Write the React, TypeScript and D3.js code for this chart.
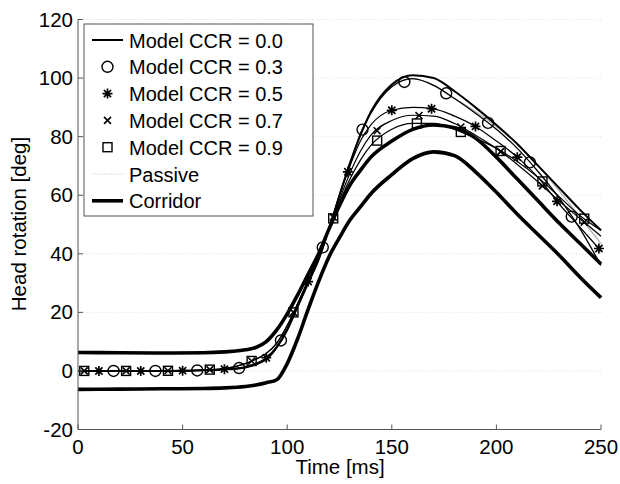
import React from "react";
import * as d3 from "d3";

const times = [0, 20, 40, 60, 70, 80, 85, 90, 95, 100, 105, 110, 115, 120, 125, 130, 135, 140, 150, 160, 170, 180, 190, 200, 210, 220, 230, 240, 250];

const ccr00 = [0, 0, 0, 0.2, 0.5, 1.2, 2.2, 4, 8, 14, 22, 30, 38, 48.5, 60, 71, 80.5, 88.5, 97.8, 101, 100, 95.5, 90, 84, 77.5, 70, 62.5, 55, 48];
const ccr03 = [0, 0, 0, 0.2, 0.5, 1.2, 2.2, 4, 8, 14, 22, 30, 38, 48.5, 60, 70.5, 81, 88, 97, 99.8, 97.5, 93, 88, 82.5, 76, 68, 59, 48.5, 36];
const ccr05 = [0, 0, 0, 0.2, 0.6, 1.5, 2.6, 4.5, 8.5, 14.5, 22.5, 30.5, 38.5, 48.5, 60, 70, 78.5, 84, 89, 90, 89.5, 87, 83.5, 78.5, 73, 66, 57, 49, 41];
const ccr07 = [0, 0, 0, 0.3, 0.8, 2.5, 4, 6, 9.5, 15.5, 23, 31, 39, 48.5, 58.5, 67.5, 75, 80.5, 85.5, 87.3, 87, 84.5, 80.5, 76, 70.5, 64.5, 58, 52, 46];
const ccr09 = [0, 0, 0, 0.3, 0.8, 2.5, 4, 6, 9.5, 15.5, 23, 31, 39, 48.5, 57.5, 65.5, 72, 77, 82.5, 84.5, 84.5, 82.5, 79.5, 76, 71.5, 66, 59.5, 53, 48];
const passive = [0, 0, 0, 0.2, 0.5, 1.2, 2.2, 4, 8, 14, 22, 30, 38, 48.5, 60, 70.5, 81, 88, 97, 99.8, 97.5, 93, 88.5, 83.5, 77.5, 70, 61.5, 52.5, 43.5];
const corridorUpper = [6.3, 6.2, 6.1, 6.2, 6.5, 7.2, 8, 10, 14, 19.5, 26, 33, 40, 48.5, 56.5, 63.5, 68.5, 73, 78.5, 82.5, 84, 83, 79.5, 73, 65.5, 58, 50.5, 43.5, 36.5];
const corridorLower = [-6.3, -6.2, -6.1, -6, -5.8, -5.3, -4.8, -4, -3, 2.5, 11, 21, 30.5, 39, 45.5, 51.5, 56, 60.5, 67, 72.5, 74.8, 73.5, 68, 61, 53.5, 46.5, 39.5, 32, 25];

const circleTimes = [17, 37, 57, 77, 97, 117, 136, 156, 176, 196, 216, 236];
const starTimes = [10, 30, 50, 70, 90, 110, 129, 150, 169, 190, 210, 229, 249];
const squareTimes = [3, 23, 43, 63, 83, 103, 122, 143, 162, 183, 202, 222, 242];
const crossTimes = [3, 23, 43, 63, 83, 103, 122, 143, 163, 183, 202, 222, 242];

const xTicks = [0, 50, 100, 150, 200, 250];
const yTicks = [-20, 0, 20, 40, 60, 80, 100, 120];

const legendLabels = ["Model CCR = 0.0", "Model CCR = 0.3", "Model CCR = 0.5", "Model CCR = 0.7", "Model CCR = 0.9", "Passive", "Corridor"];

const FONT = "'Liberation Sans', Arial, Helvetica, sans-serif";

const x = d3.scaleLinear().domain([0, 250]).range([78, 601]);
const y = d3.scaleLinear().domain([-20, 120]).range([429.5, 19.5]);

const lineGen = (vals: number[]) =>
  d3
    .line<number>()
    .x((_, i) => x(times[i]))
    .y((v) => y(v))
    .curve(d3.curveMonotoneX)(vals) as string;

function interp(vals: number[], t: number) {
  const i = Math.max(1, Math.min(times.length - 1, d3.bisectLeft(times, t)));
  const t0 = times[i - 1], t1 = times[i];
  const f = (t - t0) / (t1 - t0);
  return vals[i - 1] + f * (vals[i] - vals[i - 1]);
}

function Circle({ cx, cy }: { cx: number; cy: number }) {
  return <circle cx={cx} cy={cy} r={5.5} fill="none" stroke="#000" strokeWidth={1.4} />;
}
function Square({ cx, cy }: { cx: number; cy: number }) {
  const s = 4.5;
  return <rect x={cx - s} y={cy - s} width={2 * s} height={2 * s} fill="none" stroke="#000" strokeWidth={1.4} />;
}
function Cross({ cx, cy }: { cx: number; cy: number }) {
  const s = 3.5;
  return (
    <path d={`M${cx - s},${cy - s}L${cx + s},${cy + s}M${cx - s},${cy + s}L${cx + s},${cy - s}`} stroke="#000" strokeWidth={1.6} fill="none" />
  );
}
function Star({ cx, cy }: { cx: number; cy: number }) {
  const s = 5, d = 3.6;
  return (
    <path
      d={`M${cx - s},${cy}L${cx + s},${cy}M${cx},${cy - s}L${cx},${cy + s}M${cx - d},${cy - d}L${cx + d},${cy + d}M${cx - d},${cy + d}L${cx + d},${cy - d}`}
      stroke="#000"
      strokeWidth={1.7}
      fill="none"
    />
  );
}

export default function App() {
  const legX0 = 84, legY0 = 24, legW = 229, legH = 192;
  const rowY = (i: number) => 40 + i * 26.8;
  return (
    <svg width={620} height={484} style={{ position: "absolute", left: 0, top: 0, background: "#fff" }} fontFamily={FONT}>
      <rect x={0} y={0} width={620} height={484} fill="#fff" />
      {/* grid */}
      {yTicks.map((t) => (
        <line key={"g" + t} x1={x(0)} x2={x(250)} y1={y(t)} y2={y(t)} stroke="#d8d8d8" strokeWidth={0.8} strokeDasharray="1,2" />
      ))}
      {/* curves */}
      <path d={lineGen(passive)} fill="none" stroke="#b0b0b0" strokeWidth={1.3} />
      <path d={lineGen(ccr09)} fill="none" stroke="#000" strokeWidth={1.2} />
      <path d={lineGen(ccr07)} fill="none" stroke="#000" strokeWidth={1.2} />
      <path d={lineGen(ccr05)} fill="none" stroke="#000" strokeWidth={1.2} />
      <path d={lineGen(ccr03)} fill="none" stroke="#000" strokeWidth={1.3} />
      <path d={lineGen(ccr00)} fill="none" stroke="#000" strokeWidth={2} />
      <path d={lineGen(corridorUpper)} fill="none" stroke="#000" strokeWidth={3.6} />
      <path d={lineGen(corridorLower)} fill="none" stroke="#000" strokeWidth={3.6} />
      {/* markers */}
      {circleTimes.map((t) => (
        <Circle key={"c" + t} cx={x(t)} cy={y(interp(ccr03, t))} />
      ))}
      {starTimes.map((t) => (
        <Star key={"s" + t} cx={x(t)} cy={y(interp(ccr05, t))} />
      ))}
      {crossTimes.map((t) => (
        <Cross key={"x" + t} cx={x(t)} cy={y(interp(ccr07, t))} />
      ))}
      {squareTimes.map((t) => (
        <Square key={"q" + t} cx={x(t)} cy={y(interp(ccr09, t))} />
      ))}
      {/* axes */}
      <line x1={x(0)} x2={x(0)} y1={y(120)} y2={y(-20)} stroke="#555" strokeWidth={1} />
      <line x1={x(0)} x2={x(250)} y1={y(-20)} y2={y(-20)} stroke="#555" strokeWidth={1} />
      {xTicks.map((t) => (
        <g key={"xt" + t}>
          <line x1={x(t)} x2={x(t)} y1={y(-20)} y2={y(-20) - 5} stroke="#555" strokeWidth={1} />
          <text x={x(t)} y={y(-20) + 24} textAnchor="middle" fontSize={20.5} fill="#000">
            {t}
          </text>
        </g>
      ))}
      {yTicks.map((t) => (
        <g key={"yt" + t}>
          <line x1={x(0)} x2={x(0) + 5} y1={y(t)} y2={y(t)} stroke="#555" strokeWidth={1} />
          <text x={x(0) - 5} y={y(t) + 7} textAnchor="end" fontSize={20.5} fill="#000">
            {t}
          </text>
        </g>
      ))}
      <text x={340} y={474} textAnchor="middle" fontSize={20.5} fill="#000">
        Time [ms]
      </text>
      <text transform={`translate(26,224) rotate(-90)`} textAnchor="middle" fontSize={20.5} fill="#000">
        Head rotation [deg]
      </text>
      {/* legend */}
      <rect x={legX0} y={legY0} width={legW} height={legH} fill="#fff" stroke="#555" strokeWidth={1} />
      {legendLabels.map((lab, i) => {
        const cy = rowY(i);
        const lx1 = 92, lx2 = 123, mx = 107.5;
        let sample: React.ReactNode = null;
        if (i === 0) sample = <line x1={lx1} x2={lx2} y1={cy} y2={cy} stroke="#000" strokeWidth={2} />;
        else if (i === 1) sample = <Circle cx={mx} cy={cy} />;
        else if (i === 2) sample = <Star cx={mx} cy={cy} />;
        else if (i === 3) sample = <Cross cx={mx} cy={cy} />;
        else if (i === 4) sample = <Square cx={mx} cy={cy} />;
        else if (i === 5) sample = <line x1={lx1} x2={lx2} y1={cy} y2={cy} stroke="#ddd" strokeWidth={1} strokeDasharray="2,1" />;
        else sample = <line x1={lx1} x2={lx2} y1={cy} y2={cy} stroke="#000" strokeWidth={3.6} />;
        return (
          <g key={lab}>
            {sample}
            <text x={129} y={cy + 7.5} fontSize={20} fill="#000">
              {lab}
            </text>
          </g>
        );
      })}
    </svg>
  );
}
